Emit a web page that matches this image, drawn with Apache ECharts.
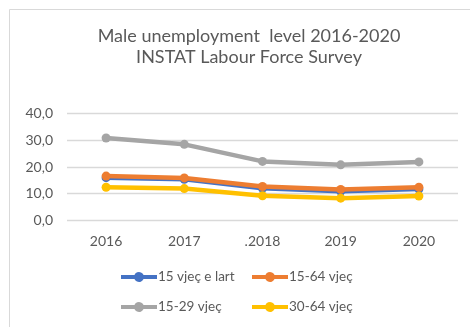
<!DOCTYPE html>
<html>
<head>
<meta charset="utf-8">
<script src="https://cdn.jsdelivr.net/npm/echarts@6/dist/echarts.min.js"></script>
<style>
  html, body { margin: 0; padding: 0; background: #fff; }
  #chart { width: 470px; height: 327px; }
</style>
</head>
<body>
<div id="chart"></div>
<script>
// Years on the x axis
const years = ['2016', '2017', '.2018', '2019', '2020'];

// Male unemployment level (%) by age group
const age15plus = [16.0, 15.4, 12.0, 10.9, 11.7];
const age15to64 = [16.6, 15.9, 12.7, 11.6, 12.4];
const age15to29 = [30.9, 28.5, 22.1, 20.8, 21.9];
const age30to64 = [12.4, 11.9, 9.2, 8.3, 9.1];

const seriesNames = ['15 vjeç e lart', '15-64 vjeç', '15-29 vjeç', '30-64 vjeç'];
const seriesColors = ['#4472C4', '#ED7D31', '#A5A5A5', '#FFC000'];
const seriesValues = [age15plus, age15to64, age15to29, age30to64];

const FONT = 'Lato';
const TEXT = '#595959';

// legend icon: thick line with a dot in the middle (drawn in a 36x10 box)
const LINE_DOT_ICON = 'path://M0,3L13.42,3A5,5 0 0 1 22.58,3L36,3L36,7L22.58,7A5,5 0 0 1 13.42,7L0,7Z';

const chart = echarts.init(document.getElementById('chart'), null, { renderer: 'canvas' });

const legendBase = {
  orient: 'vertical',
  top: 265,
  itemWidth: 36,
  itemHeight: 10,
  itemGap: 16,
  icon: LINE_DOT_ICON,
  textStyle: { fontFamily: FONT, fontSize: 13.5, color: TEXT, padding: [0, 0, 0, -4] }
};

// document text running above the chart frame; a tall line box keeps it on the canvas
const docFont = '36px "Liberation Serif"';
const docText = (text, x) => ({
  type: 'text', x: x, y: -21, silent: true,
  style: { text: text, font: docFont, fill: '#000', verticalAlign: 'middle', lineHeight: 60 }
});

chart.setOption({
  backgroundColor: '#fff',
  animation: false,
  title: {
    text: 'Male unemployment  level 2016-2020\nINSTAT Labour Force Survey',
    left: 244,
    top: 21,
    textAlign: 'center',
    textStyle: { fontFamily: FONT, fontSize: 18, fontWeight: 'normal', color: TEXT, lineHeight: 21 }
  },
  graphic: [
    // chart frame
    {
      type: 'rect',
      shape: { x: 9.5, y: 9.5, width: 480, height: 340 },
      style: { fill: 'none', stroke: '#D9D9D9', lineWidth: 1 },
      silent: true
    },
    docText('ing', 36),
    docText('demographic', 78),
    docText('growth', 271)
  ],
  legend: [
    Object.assign({}, legendBase, { left: 116, data: [seriesNames[0], seriesNames[2]] }),
    Object.assign({}, legendBase, { left: 247, data: [seriesNames[1], seriesNames[3]] })
  ],
  grid: { left: 67, right: 12, top: 113.7, bottom: 106.7, containLabel: false },
  xAxis: {
    type: 'category',
    data: years,
    boundaryGap: true,
    axisLine: { show: false },
    axisTick: { show: false },
    axisLabel: { fontFamily: FONT, fontSize: 14, color: TEXT, margin: 14 }
  },
  yAxis: {
    type: 'value',
    min: 0,
    max: 40,
    interval: 10,
    axisLine: { show: false },
    axisTick: { show: false },
    splitLine: { lineStyle: { color: '#D9D9D9', width: 1.3 } },
    axisLabel: {
      fontFamily: FONT, fontSize: 14, color: TEXT, margin: 14,
      formatter: v => v.toFixed(1).replace('.', ',')
    }
  },
  series: seriesNames.map((name, i) => ({
    name: name,
    type: 'line',
    data: seriesValues[i],
    color: seriesColors[i],
    symbol: 'circle',
    symbolSize: 9,
    lineStyle: { width: 4.5, cap: 'round', join: 'round' },
    itemStyle: { color: seriesColors[i] },
    z: 2 + i
  }))
});
</script>
</body>
</html>
